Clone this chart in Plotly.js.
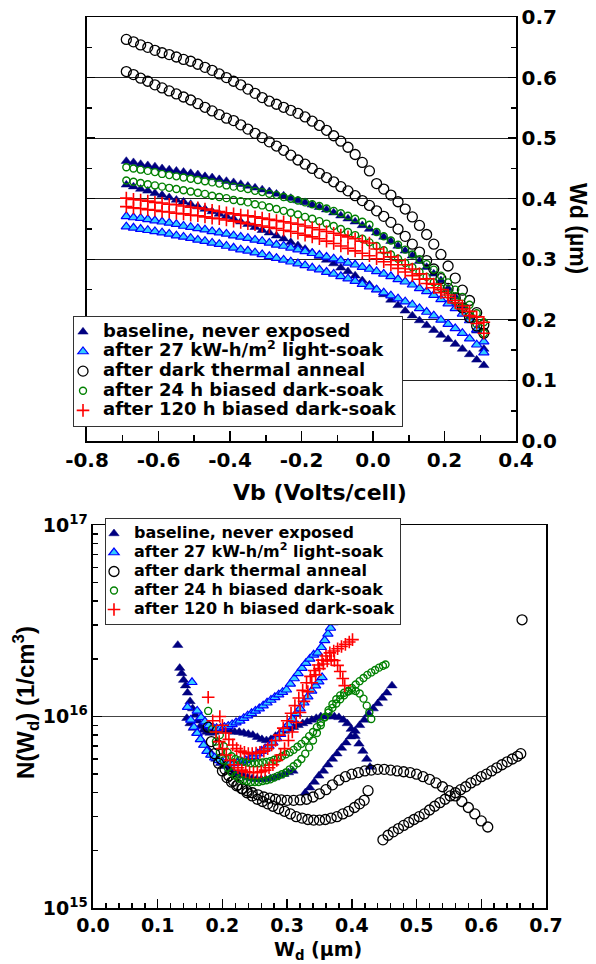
<!DOCTYPE html>
<html><head><meta charset="utf-8">
<script src="https://cdn.plot.ly/plotly-3.0.1.min.js"></script>
<style>body{margin:0;padding:0;background:#fff}#c{width:596px;height:964px}</style>
</head><body><div id="c"></div>
<script>
// ---------- TOP PANEL DATA : Wd (um) vs Vb (Volts/cell) ----------
const vb = [-0.69,-0.67,-0.65,-0.63,-0.61,-0.59,-0.57,-0.55,-0.53,-0.51,-0.49,-0.47,-0.45,-0.43,-0.41,-0.39,-0.37,-0.35,-0.33,-0.31,-0.29,-0.27,-0.25,-0.23,-0.21,-0.19,-0.17,-0.15,-0.13,-0.11,-0.09,-0.07,-0.05,-0.03,-0.01,0.01,0.03,0.05,0.07,0.09,0.11,0.13,0.15,0.17,0.19,0.21,0.23,0.25,0.27,0.29,0.31];

const wdBaselineA = [0.462,0.460,0.457,0.455,0.453,0.450,0.448,0.446,0.444,0.442,0.440,0.437,0.435,0.432,0.429,0.427,0.424,0.421,0.418,0.415,0.412,0.408,0.405,0.401,0.397,0.394,0.390,0.386,0.382,0.377,0.372,0.367,0.362,0.356,0.350,0.344,0.337,0.330,0.322,0.314,0.306,0.297,0.287,0.276,0.265,0.252,0.238,0.222,0.204,0.182,0.152];
const wdBaselineB = [0.423,0.420,0.416,0.413,0.409,0.406,0.402,0.398,0.395,0.391,0.387,0.383,0.379,0.375,0.371,0.367,0.362,0.358,0.353,0.348,0.344,0.339,0.334,0.328,0.323,0.317,0.311,0.305,0.299,0.293,0.286,0.280,0.273,0.265,0.258,0.250,0.242,0.233,0.224,0.215,0.207,0.199,0.191,0.183,0.175,0.168,0.160,0.152,0.143,0.134,0.125];
const wdLightA = [0.371,0.369,0.368,0.366,0.364,0.362,0.360,0.358,0.355,0.353,0.351,0.349,0.346,0.344,0.342,0.339,0.337,0.335,0.332,0.330,0.327,0.324,0.322,0.319,0.316,0.313,0.310,0.307,0.304,0.301,0.298,0.294,0.291,0.287,0.284,0.280,0.276,0.272,0.267,0.263,0.258,0.252,0.247,0.241,0.234,0.227,0.219,0.210,0.199,0.184,0.164];
const wdLightB = [0.354,0.352,0.350,0.348,0.346,0.344,0.342,0.339,0.337,0.335,0.332,0.330,0.327,0.325,0.322,0.319,0.316,0.314,0.311,0.308,0.305,0.302,0.299,0.296,0.293,0.290,0.286,0.283,0.279,0.276,0.272,0.268,0.264,0.259,0.255,0.250,0.245,0.240,0.235,0.230,0.225,0.219,0.213,0.207,0.200,0.193,0.186,0.178,0.169,0.159,0.146];
const wdAnnealA = [0.663,0.659,0.654,0.650,0.645,0.641,0.638,0.634,0.630,0.627,0.622,0.617,0.612,0.606,0.600,0.594,0.588,0.581,0.574,0.567,0.561,0.556,0.551,0.546,0.541,0.535,0.528,0.521,0.513,0.504,0.495,0.485,0.473,0.460,0.446,0.425,0.416,0.406,0.395,0.383,0.370,0.356,0.341,0.325,0.308,0.289,0.269,0.249,0.232,0.212,0.192];
const wdAnnealB = [0.610,0.605,0.599,0.594,0.588,0.583,0.578,0.573,0.568,0.563,0.557,0.551,0.545,0.539,0.533,0.529,0.522,0.515,0.508,0.501,0.494,0.487,0.480,0.472,0.464,0.457,0.450,0.442,0.435,0.428,0.420,0.413,0.405,0.397,0.389,0.380,0.371,0.361,0.350,0.338,0.325,0.312,0.298,0.284,0.268,0.252,0.236,0.220,0.204,0.190,0.178];
const wdDark24A = [0.452,0.450,0.448,0.446,0.444,0.441,0.439,0.437,0.435,0.433,0.431,0.429,0.427,0.425,0.422,0.420,0.418,0.416,0.413,0.411,0.408,0.406,0.403,0.400,0.397,0.394,0.391,0.388,0.384,0.380,0.376,0.372,0.367,0.362,0.357,0.345,0.338,0.331,0.324,0.316,0.308,0.300,0.292,0.283,0.273,0.262,0.250,0.238,0.225,0.211,0.196];
const wdDark24B = [0.430,0.428,0.426,0.424,0.422,0.420,0.418,0.416,0.414,0.412,0.410,0.408,0.405,0.403,0.401,0.398,0.396,0.394,0.391,0.389,0.386,0.383,0.380,0.377,0.374,0.370,0.367,0.363,0.359,0.355,0.350,0.345,0.340,0.334,0.328,0.322,0.315,0.308,0.301,0.294,0.287,0.279,0.271,0.262,0.252,0.242,0.231,0.220,0.207,0.193,0.178];
const wdDark120A = [0.401,0.399,0.398,0.396,0.394,0.393,0.391,0.390,0.388,0.386,0.385,0.383,0.381,0.379,0.377,0.375,0.373,0.372,0.370,0.368,0.366,0.364,0.362,0.360,0.358,0.355,0.352,0.349,0.346,0.343,0.340,0.337,0.334,0.330,0.327,0.317,0.311,0.304,0.298,0.291,0.284,0.276,0.268,0.259,0.250,0.241,0.232,0.223,0.214,0.205,0.196];
const wdDark120B = [0.387,0.385,0.384,0.382,0.381,0.379,0.378,0.376,0.375,0.373,0.372,0.370,0.368,0.367,0.365,0.363,0.361,0.359,0.357,0.355,0.353,0.351,0.348,0.346,0.343,0.340,0.337,0.334,0.330,0.326,0.322,0.318,0.314,0.310,0.306,0.301,0.296,0.291,0.285,0.279,0.273,0.267,0.260,0.253,0.245,0.237,0.228,0.218,0.207,0.194,0.178];

// ---------- BOTTOM PANEL DATA : N(Wd) (1/cm3) vs Wd (um) ----------
const nwBaselineA = [0.145,0.150,0.155,0.160,0.166,0.172,0.178,0.184,0.190,0.197,0.204,0.211,0.218,0.225,0.232,0.239,0.246,0.253,0.260,0.267,0.274,0.281,0.288,0.295,0.302,0.309,0.328,0.335,0.342,0.349,0.356,0.363,0.370,0.377,0.384,0.391,0.398,0.405,0.412,0.419,0.426,0.433,0.440,0.447,0.454,0.462];
const nBaselineA  = [9.8e15,9.2e15,8.7e15,8.2e15,7.6e15,7.1e15,6.7e15,6.3e15,6.0e15,5.7e15,5.5e15,5.3e15,5.1e15,5.0e15,4.9e15,4.8e15,4.75e15,4.7e15,4.7e15,4.7e15,4.75e15,4.8e15,4.9e15,5.0e15,5.1e15,5.2e15,4.0e15,4.25e15,4.55e15,4.9e15,5.2e15,5.6e15,6.0e15,6.4e15,6.85e15,7.3e15,7.85e15,8.4e15,9.0e15,9.6e15,1.03e16,1.1e16,1.17e16,1.25e16,1.33e16,1.45e16];
const nwBaselineB = [0.131,0.134,0.137,0.140,0.143,0.146,0.150,0.154,0.158,0.162,0.166,0.171,0.176,0.181,0.187,0.193,0.199,0.205,0.212,0.219,0.226,0.233,0.240,0.247,0.254,0.261,0.268,0.275,0.282,0.289,0.296,0.303,0.310,0.317,0.324,0.331,0.338,0.345,0.352,0.359,0.366,0.373,0.380,0.387,0.393,0.399,0.405,0.411,0.417,0.423,0.428];
const nBaselineB  = [2.36e16,1.79e16,1.68e16,1.55e16,1.45e16,1.33e16,1.2e16,1.1e16,1.02e16,9.5e15,8.9e15,8.5e15,8.3e15,8.2e15,8.3e15,8.4e15,8.5e15,8.5e15,8.4e15,8.3e15,8.3e15,8.2e15,8.1e15,8.0e15,7.8e15,7.6e15,7.5e15,7.6e15,7.9e15,8.2e15,8.4e15,8.6e15,8.8e15,9.0e15,9.2e15,9.4e15,9.6e15,9.8e15,1.0e16,1.0e16,1.0e16,1.0e16,9.9e15,9.6e15,9.2e15,8.6e15,7.9e15,7.2e15,6.6e15,6.0e15,5.45e15];
const nwLightA = [0.153,0.161,0.167,0.173,0.179,0.185,0.191,0.197,0.203,0.209,0.215,0.221,0.227,0.233,0.239,0.245,0.251,0.257,0.263,0.269,0.275,0.281,0.287,0.293,0.299,0.305,0.311,0.317,0.323,0.329,0.335,0.341,0.347,0.353,0.358,0.363,0.367,0.371];
const nLightA  = [1.51e16,1.07e16,9.9e15,9.4e15,9.0e15,8.8e15,8.7e15,8.7e15,8.8e15,8.9e15,9.1e15,9.3e15,9.5e15,9.8e15,1.01e16,1.04e16,1.07e16,1.1e16,1.14e16,1.18e16,1.22e16,1.26e16,1.3e16,1.34e16,1.38e16,1.48e16,1.58e16,1.68e16,1.79e16,1.9e16,2.0e16,2.1e16,2.15e16,2.3e16,2.5e16,2.7e16,2.9e16,3.1e16];
const nwLightB = [0.146,0.151,0.156,0.161,0.166,0.171,0.176,0.182,0.188,0.194,0.200,0.206,0.212,0.218,0.224,0.230,0.236,0.242,0.248,0.254,0.260,0.266,0.272,0.278,0.284,0.290,0.296,0.302,0.308,0.314,0.320,0.326,0.332,0.338,0.344,0.349,0.354];
const nLightB  = [1.12e16,9.6e15,8.8e15,8.2e15,7.6e15,7.1e15,6.6e15,6.3e15,6.1e15,5.9e15,5.8e15,5.7e15,5.7e15,5.7e15,5.75e15,5.8e15,5.9e15,6.0e15,6.2e15,6.4e15,6.6e15,6.8e15,7.0e15,7.3e15,7.7e15,8.1e15,8.6e15,9.1e15,9.7e15,1.04e16,1.1e16,1.18e16,1.27e16,1.36e16,1.45e16,1.52e16,1.6e16];
const nwAnnealA = [0.193,0.198,0.204,0.210,0.217,0.224,0.231,0.238,0.246,0.254,0.262,0.270,0.278,0.287,0.296,0.305,0.314,0.323,0.332,0.341,0.350,0.359,0.368,0.377,0.386,0.395,0.404,0.412,0.419,0.425,0.448,0.456,0.464,0.472,0.480,0.488,0.496,0.504,0.512,0.520,0.528,0.536,0.544,0.552,0.560,0.568,0.576,0.584,0.592,0.600,0.608,0.616,0.624,0.632,0.640,0.648,0.656,0.661,0.663];
const nAnnealA  = [7.1e15,6.0e15,5.3e15,4.9e15,4.6e15,4.4e15,4.2e15,4.0e15,3.85e15,3.7e15,3.6e15,3.5e15,3.4e15,3.3e15,3.2e15,3.1e15,3.0e15,2.95e15,2.9e15,2.88e15,2.88e15,2.9e15,2.95e15,3.0e15,3.1e15,3.2e15,3.35e15,3.5e15,3.65e15,4.1e15,2.27e15,2.4e15,2.5e15,2.6e15,2.7e15,2.8e15,2.9e15,3.0e15,3.1e15,3.25e15,3.4e15,3.55e15,3.7e15,3.85e15,4.0e15,4.15e15,4.3e15,4.5e15,4.65e15,4.85e15,5.0e15,5.2e15,5.4e15,5.6e15,5.8e15,6.0e15,6.2e15,6.4e15,3.2e16];
const nwAnnealB = [0.178,0.183,0.188,0.194,0.200,0.207,0.214,0.222,0.230,0.238,0.246,0.255,0.264,0.273,0.282,0.291,0.300,0.310,0.320,0.330,0.340,0.350,0.360,0.370,0.380,0.390,0.400,0.410,0.420,0.430,0.440,0.450,0.460,0.470,0.480,0.490,0.500,0.510,0.520,0.530,0.540,0.550,0.560,0.570,0.580,0.590,0.600,0.610];
const nAnnealB  = [8.8e15,7.4e15,6.4e15,5.7e15,5.2e15,4.8e15,4.55e15,4.35e15,4.2e15,4.1e15,4.0e15,3.9e15,3.8e15,3.75e15,3.7e15,3.67e15,3.65e15,3.65e15,3.67e15,3.7e15,3.8e15,3.95e15,4.15e15,4.4e15,4.65e15,4.85e15,5.0e15,5.1e15,5.2e15,5.25e15,5.3e15,5.3e15,5.25e15,5.2e15,5.15e15,5.1e15,5.0e15,4.85e15,4.7e15,4.5e15,4.3e15,4.1e15,3.85e15,3.6e15,3.35e15,3.1e15,2.85e15,2.65e15];
const nwDark24A = [0.196,0.202,0.208,0.214,0.220,0.226,0.232,0.238,0.244,0.250,0.256,0.262,0.268,0.274,0.280,0.286,0.292,0.298,0.304,0.310,0.316,0.322,0.328,0.334,0.340,0.346,0.352,0.358,0.364,0.370,0.376,0.382,0.388,0.394,0.400,0.406,0.412,0.418,0.424,0.430,0.436,0.442,0.448,0.452];
const nDark24A  = [8.0e15,7.0e15,6.5e15,6.2e15,6.0e15,5.9e15,5.8e15,5.75e15,5.7e15,5.7e15,5.7e15,5.75e15,5.8e15,5.85e15,5.95e15,6.05e15,6.2e15,6.35e15,6.5e15,6.7e15,6.95e15,7.2e15,7.5e15,7.9e15,8.3e15,8.8e15,9.3e15,9.9e15,1.05e16,1.11e16,1.17e16,1.23e16,1.29e16,1.35e16,1.41e16,1.47e16,1.53e16,1.59e16,1.65e16,1.7e16,1.75e16,1.8e16,1.84e16,1.87e16];
const nwDark24B = [0.178,0.184,0.190,0.196,0.202,0.208,0.214,0.220,0.226,0.232,0.238,0.244,0.250,0.256,0.262,0.268,0.274,0.280,0.286,0.292,0.298,0.304,0.310,0.316,0.322,0.328,0.334,0.340,0.346,0.352,0.358,0.364,0.370,0.376,0.382,0.388,0.394,0.400,0.406,0.412,0.418,0.423,0.427,0.430];
const nDark24B  = [1.07e16,8.6e15,7.4e15,6.5e15,5.9e15,5.4e15,5.1e15,4.9e15,4.75e15,4.65e15,4.6e15,4.55e15,4.55e15,4.55e15,4.6e15,4.65e15,4.7e15,4.8e15,4.9e15,5.0e15,5.1e15,5.3e15,5.5e15,5.7e15,6.0e15,6.4e15,6.9e15,7.5e15,8.2e15,9.0e15,9.9e15,1.08e16,1.16e16,1.23e16,1.29e16,1.33e16,1.36e16,1.37e16,1.36e16,1.32e16,1.24e16,1.14e16,1.05e16,9.7e15];
const nwDark120A = [0.196,0.200,0.205,0.210,0.216,0.222,0.228,0.234,0.240,0.246,0.252,0.258,0.264,0.270,0.276,0.282,0.288,0.294,0.300,0.306,0.312,0.318,0.324,0.330,0.336,0.342,0.348,0.354,0.360,0.366,0.372,0.378,0.384,0.390,0.396,0.401];
const nDark120A  = [1.0e16,9.0e15,8.2e15,7.6e15,7.1e15,6.8e15,6.6e15,6.5e15,6.4e15,6.4e15,6.45e15,6.5e15,6.6e15,6.8e15,7.1e15,7.5e15,8.0e15,8.7e15,9.5e15,1.04e16,1.14e16,1.25e16,1.37e16,1.5e16,1.62e16,1.74e16,1.86e16,1.97e16,2.07e16,2.15e16,2.2e16,2.26e16,2.32e16,2.38e16,2.45e16,2.52e16];
const nwDark120B = [0.178,0.185,0.190,0.195,0.200,0.206,0.212,0.218,0.224,0.230,0.236,0.242,0.248,0.254,0.260,0.266,0.272,0.278,0.284,0.290,0.296,0.302,0.308,0.314,0.320,0.326,0.332,0.338,0.344,0.350,0.356,0.362,0.368,0.373,0.378,0.382,0.386,0.389];
const nDark120B  = [1.26e16,9.5e15,8.3e15,7.4e15,6.8e15,6.3e15,5.9e15,5.6e15,5.4e15,5.25e15,5.15e15,5.1e15,5.1e15,5.1e15,5.15e15,5.25e15,5.4e15,5.6e15,5.9e15,6.3e15,6.8e15,7.5e15,8.3e15,9.3e15,1.05e16,1.2e16,1.35e16,1.5e16,1.65e16,1.78e16,1.88e16,1.95e16,1.98e16,1.96e16,1.85e16,1.72e16,1.58e16,1.45e16];

// ---------- LABELS ----------
const seriesNames = ['baseline, never exposed','after 27 kW-h/m<sup>2</sup> light-soak','after dark thermal anneal','after 24 h biased dark-soak','after 120 h biased dark-soak'];
const topXTickVals = [-0.8,-0.6,-0.4,-0.2,0.0,0.2,0.4];
const topXTickText = ['-0.8','-0.6','-0.4','-0.2','0.0','0.2','0.4'];
const topYTickVals = [0,0.1,0.2,0.3,0.4,0.5,0.6,0.7];
const topYTickText = ['0.0','0.1','0.2','0.3','0.4','0.5','0.6','0.7'];
const botXTickVals = [0,0.1,0.2,0.3,0.4,0.5,0.6,0.7];
const botXTickText = ['0.0','0.1','0.2','0.3','0.4','0.5','0.6','0.7'];
const botYTickVals = [1e15,1e16,1e17];
const botYTickText = ['10<sup>15</sup>','10<sup>16</sup>','10<sup>17</sup>'];

// ---------- STYLES ----------
const styles = [
  {symbol:'triangle-up', size:9, color:'#000080', line:{color:'#000080',width:0.5}},
  {symbol:'triangle-up', size:9, color:'#33ccff', line:{color:'#0000ff',width:1.2}},
  {symbol:'circle-open', size:10, color:'#000000', line:{color:'#000000',width:1.3}},
  {symbol:'circle-open', size:7, color:'#008000', line:{color:'#008000',width:1.4}},
  {symbol:'cross-thin-open', size:9, color:'#ff0000', line:{color:'#ff0000',width:1.6}}
];
const topSets = [[wdBaselineA,wdBaselineB],[wdLightA,wdLightB],[wdAnnealA,wdAnnealB],[wdDark24A,wdDark24B],[wdDark120A,wdDark120B]];
const botSets = [[[nwBaselineA,nBaselineA],[nwBaselineB,nBaselineB]],[[nwLightA,nLightA],[nwLightB,nLightB]],[[nwAnnealA,nAnnealA],[nwAnnealB,nAnnealB]],[[nwDark24A,nDark24A],[nwDark24B,nDark24B]],[[nwDark120A,nDark120A],[nwDark120B,nDark120B]]];

const traces = [];
for (let s=0;s<5;s++){
  topSets[s].forEach((arr,k)=>{
    traces.push({x:vb, y:arr, xaxis:'x', yaxis:'y', type:'scatter', mode:'markers',
      name:'<span style="font-size:18px">'+seriesNames[s]+'</span>', legend:'legend', showlegend:k===0, legendgroup:'t'+s,
      marker:styles[s], hoverinfo:'skip'});
  });
}
for (let s=0;s<5;s++){
  botSets[s].forEach((pair,k)=>{
    traces.push({x:pair[0], y:pair[1], xaxis:'x2', yaxis:'y2', type:'scatter', mode:'markers',
      name:'<span style="font-size:16px">'+seriesNames[s]+'</span>', legend:'legend2', showlegend:k===0, legendgroup:'b'+s,
      marker:styles[s], hoverinfo:'skip'});
  });
}

const FW = 'DejaVu Sans, Verdana, sans-serif';
const FN = 'Liberation Sans, Arial, Helvetica, sans-serif';
const tickF = {family:FW, size:20, color:'#000', weight:'bold'};
const axCommon = {showline:true, linecolor:'#000', linewidth:1.5, zeroline:false, ticks:'inside', tickcolor:'#000', tickwidth:1.5, tickfont:tickF};

const layout = {
  width:596, height:964, margin:{l:80, r:40, t:10, b:30},
  paper_bgcolor:'#fff', plot_bgcolor:'#fff', showlegend:true,
  font:{family:FW, color:'#000'},
  xaxis: Object.assign({}, axCommon, {domain:[0.0147,0.916], range:[-0.8,0.4], anchor:'y', tickmode:'array', tickvals:topXTickVals, ticktext:topXTickText, ticklen:10, mirror:true, showgrid:false,
    minor:{tickvals:[-0.7,-0.5,-0.3,-0.1,0.1,0.3], ticklen:6, ticks:'inside', tickcolor:'#000', showgrid:false}}),
  yaxis: Object.assign({}, axCommon, {domain:[0.5335,0.9924], range:[0,0.7], anchor:'x', side:'right', tickmode:'array', tickvals:topYTickVals, ticktext:topYTickText, ticklen:8, mirror:'ticks', showgrid:true, gridcolor:'#222', gridwidth:1,
    minor:{tickvals:[0.05,0.15,0.25,0.35,0.45,0.55,0.65], ticklen:5, ticks:'inside', tickcolor:'#000', showgrid:false}}),
  xaxis2: Object.assign({}, axCommon, {domain:[0.0273,0.979], range:[0,0.7], anchor:'y2', tickmode:'array', tickvals:botXTickVals, ticktext:botXTickText, ticklen:9, mirror:true, showgrid:false,
    tickfont:{family:FW, size:19, color:'#000', weight:'bold'},
    minor:{dtick:0.02, tick0:0, ticklen:5, ticks:'inside', tickcolor:'#000', showgrid:false}}),
  yaxis2: Object.assign({}, axCommon, {domain:[0.0281,0.4426], type:'log', range:[15,17], anchor:'x2', tickmode:'array', tickvals:botYTickVals, ticktext:botYTickText, ticklen:9, mirror:true, showgrid:true, gridcolor:'#444', gridwidth:1,
    tickfont:{family:FW, size:19, color:'#000', weight:'bold'},
    minor:{tickvals:[2e15,3e15,4e15,5e15,6e15,7e15,8e15,9e15,2e16,3e16,4e16,5e16,6e16,7e16,8e16,9e16], ticklen:5, ticks:'inside', tickcolor:'#000', showgrid:false}}),
  legend:{x:-0.0147, y:0.6688, xanchor:'left', yanchor:'top', bgcolor:'#fff', bordercolor:'#333', borderwidth:1, indentation:-11,
    font:{family:FW, size:12.8, color:'#000', weight:'bold'}, itemsizing:'trace', tracegroupgap:0, itemwidth:30},
  legend2:{x:0.0525, y:0.4502, xanchor:'left', yanchor:'top', bgcolor:'#fff', bordercolor:'#333', borderwidth:1, indentation:-12,
    font:{family:FW, size:12, color:'#000', weight:'bold'}, itemsizing:'trace', tracegroupgap:0, itemwidth:30},
  annotations:[
    {text:'Vb (Volts/cell)', xref:'paper', yref:'paper', x:0.504, y:0.4773, xanchor:'center', yanchor:'middle', showarrow:false, font:{family:FW, size:22, weight:'bold'}},
    {text:'Wd (µm)', xref:'paper', yref:'paper', x:1.046, y:0.763, xanchor:'center', yanchor:'middle', textangle:90, showarrow:false, font:{family:FN, size:23, weight:'bold'}},
    {text:'W<sub>d</sub> (µm)', xref:'paper', yref:'paper', x:0.5, y:-0.0178, xanchor:'center', yanchor:'middle', showarrow:false, font:{family:FW, size:19, weight:'bold'}},
    {text:'N(W<sub>d</sub>) (1/cm<sup>3</sup>)', xref:'paper', yref:'paper', x:-0.1134, y:0.25, xanchor:'center', yanchor:'middle', textangle:-90, showarrow:false, font:{family:FN, size:24, weight:'bold'}}
  ]
};
Plotly.newPlot('c', traces, layout, {staticPlot:true, displayModeBar:false});
</script></body></html>
